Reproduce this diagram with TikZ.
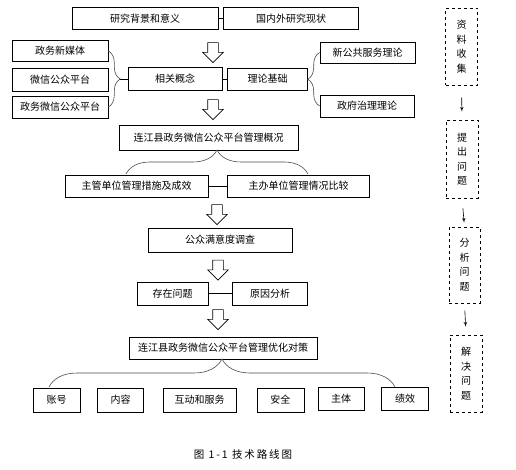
\documentclass[tikz,border=0pt]{standalone}
\usepackage{fontspec}
\newfontfamily\cjk{Noto Sans CJK SC}
\newfontfamily\capcjk[LetterSpace=18]{Noto Sans CJK SC}
\usetikzlibrary{shapes.arrows, arrows, positioning, decorations.pathreplacing}

\begin{document}
\begin{tikzpicture}[
    x=1pt, y=-1pt,
    block/.style={rectangle, draw, line width=0.6pt, minimum height=22pt, inner sep=1pt, align=center, font=\cjk\fontsize{10}{12}\selectfont},
    stage/.style={rectangle, draw, dashed, line width=0.6pt, minimum width=32pt, minimum height=77pt, inner sep=1pt, align=center, font=\cjk\fontsize{10}{14.5}\selectfont},
    hollow/.style={single arrow, draw, line width=0.6pt, fill=white, shape border rotate=270, minimum height=20pt, single arrow head extend=5pt, inner sep=5pt},
    link/.style={line width=0.6pt},
    arrow/.style={-latex', line width=0.6pt},
    bracket/.style={decorate, decoration={brace, amplitude=#1}, line width=0.6pt, gray!60!black}
]
    \path[use as bounding box, fill=white] (0,0) rectangle (516,470);

    % Main column
    \node[block, minimum width=146pt] (bg) at (145,18.5) {研究背景和意义};
    \node[block, minimum width=135pt, right=5pt of bg] (status) {国内外研究现状};
    \node[hollow] (arr1) at (213,50) {};

    \node[block, minimum width=96pt, minimum height=21pt] (media) at (60,51) {政务新媒体};
    \node[block, minimum width=96pt, minimum height=23pt] (wechat) at (60,80) {微信公众平台};
    \node[block, minimum width=96pt] (govwechat) at (60,107) {政务微信公众平台};
    \node[block, minimum width=94pt, minimum height=23pt] (concept) at (175,79) {相关概念};
    \node[block, minimum width=80pt, right=5pt of concept] (theory) {理论基础};
    \node[block, minimum width=95pt, minimum height=21pt] (npm) at (367.5,52.5) {新公共服务理论};
    \node[block, minimum width=94pt] (gov) at (367,106) {政府治理理论};
    \node[hollow] (arr2) at (213,107) {};

    \node[block, minimum width=179pt, minimum height=25pt] (overview) at (208.5,137.5) {连江县政务微信公众平台管理概况};
    \coordinate (ob1) at (126,174);
    \coordinate (ob2) at (308,174);
    \node[block, minimum width=143pt] (measures) at (136.5,186) {主管单位管理措施及成效};
    \node[block, minimum width=142pt, right=19pt of measures] (compare) {主办单位管理情况比较};
    \node[hollow] (arr3) at (217,212) {};

    \node[block, minimum width=144pt, minimum height=24pt] (survey) at (220,240) {公众满意度调查};
    \node[hollow] (arr4) at (218,267.5) {};
    \node[block, minimum width=71pt, minimum height=23pt] (problem) at (172.5,293.5) {存在问题};
    \node[block, minimum width=75pt, minimum height=23pt, right=24pt of problem] (cause) {原因分析};
    \node[hollow] (arr5) at (218,317) {};

    \node[block, minimum width=188pt] (strategy) at (223,348) {连江县政务微信公众平台管理优化对策};
    \coordinate (sb1) at (49,387);
    \coordinate (sb2) at (395,387);
    \node[block, minimum width=47pt, minimum height=24pt] (account) at (56.5,400) {账号};
    \node[block, minimum width=46pt, minimum height=24pt, right=17pt of account] (content) {内容};
    \node[block, minimum width=73pt, minimum height=24pt, right=19pt of content] (interact) {互动和服务};
    \node[block, minimum width=47pt, minimum height=24pt, right=20pt of interact] (safety) {安全};
    \node[block, minimum width=46pt, minimum height=23pt] (subject) at (341,398.5) {主体};
    \node[block, minimum width=47pt, minimum height=23pt, right=17pt of subject] (perf) {绩效};

    \node[font=\capcjk\fontsize{10.5}{12}\selectfont] (caption) at (243,455) {图 1-1 技术路线图};

    % Right column
    \node[stage] (collect) at (461.5,46.5) {资\\料\\收\\集};
    \node[stage, minimum height=78pt] (raise) at (462,159) {提\\出\\问\\题};
    \node[stage, minimum width=31pt, minimum height=76pt] (analyze) at (464.5,265) {分\\析\\问\\题};
    \node[stage] (solve) at (466,373.5) {解\\决\\问\\题};

    % Links
    \draw[link] (bg) -- (status);
    \draw[link] (concept) -- (theory);
    \draw[link] (measures) -- (compare);
    \draw[link] (problem) -- (cause);
    \draw[link] (concept.west) -- ++(-8,0);

    % Braces
    \draw[bracket=12pt] (media.east) -- (govwechat.east);
    \draw[bracket=12pt] (gov.west) -- (npm.west);
    \draw[bracket=24pt] (ob1) -- (ob2);
    \draw[bracket=28pt] (sb1) -- (sb2);

    % Research steps
    \draw[arrow, shorten <=12pt, shorten >=8pt] (collect.south) -- (raise.north);
    \draw[arrow, shorten <=10pt, shorten >=4pt] (raise.south) -- (analyze.north);
    \draw[arrow, shorten <=7pt, shorten >=8pt] (analyze.south) -- (solve.north);
\end{tikzpicture}
\end{document}
